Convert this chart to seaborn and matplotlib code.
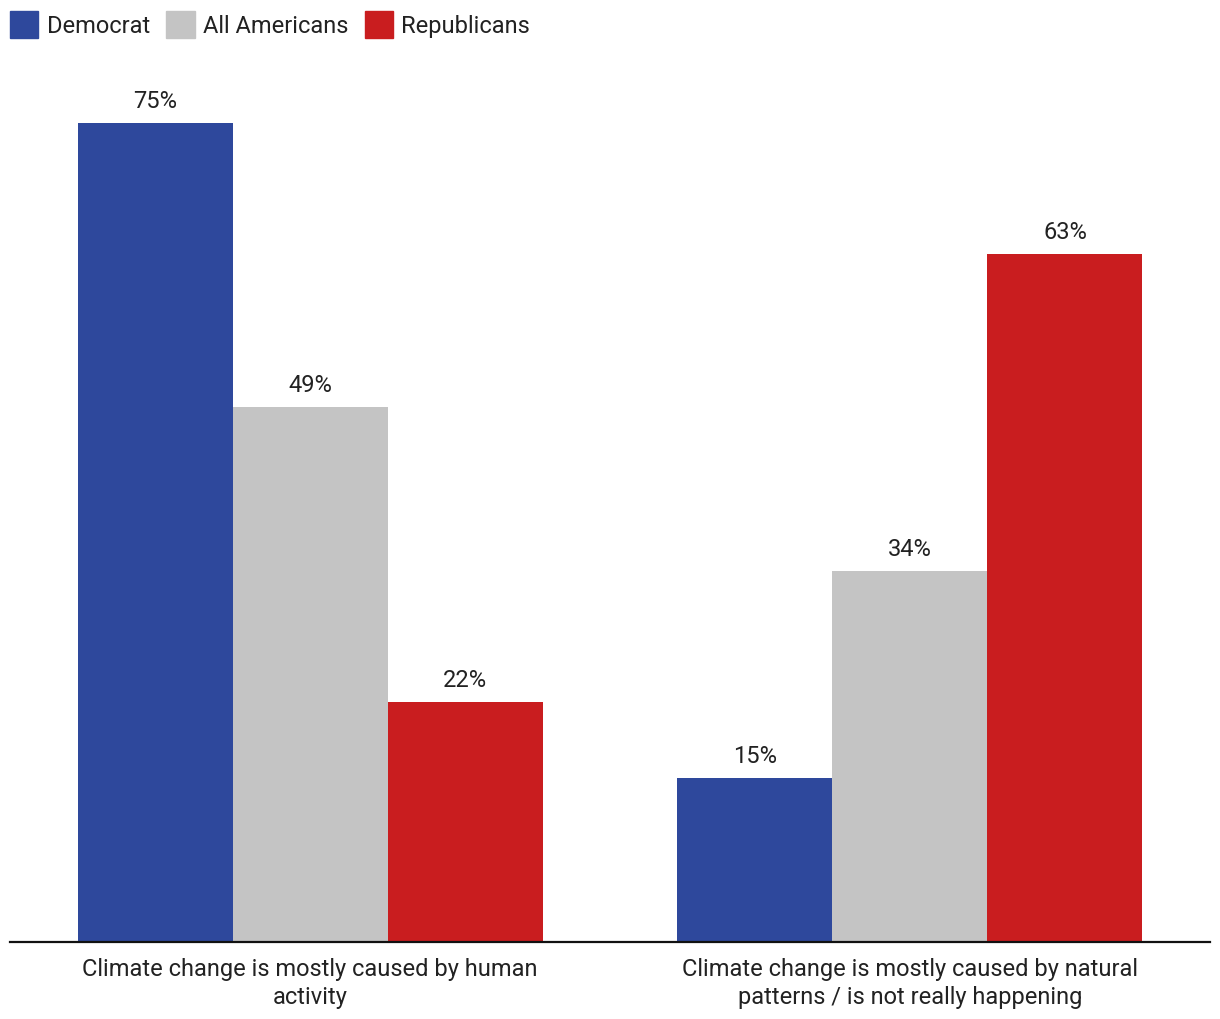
import pandas as pd
import numpy as np
import matplotlib.pyplot as plt
import seaborn as sns

# datos
enunciados = ["Climate change is mostly caused by human\nactivity",
              "Climate change is mostly caused by natural\npatterns / is not really happening"]
grupos = ["Democrat", "All Americans", "Republicans"]
democrat = [75, 15]
all_americans = [49, 34]
republicans = [22, 63]
colores = ["#2E489C", "#C4C4C4", "#C91D1F"]

datos = pd.DataFrame({
    "enunciado": enunciados * 3,
    "grupo": [g for g in grupos for _ in enunciados],
    "pct": democrat + all_americans + republicans,
})

sns.set_style("white")
plt.rcParams["font.family"] = ["Roboto", "DejaVu Sans"]

fig = plt.figure(figsize=(12.2, 10.2), dpi=100)
ax = fig.add_axes([0.0082, 0.0755, 0.9836, 0.8565])

sns.barplot(data=datos, x="enunciado", y="pct", hue="grupo", palette=colores,
            width=0.775, saturation=1, linewidth=0, ax=ax, legend=False)

for c in ax.containers:
    ax.bar_label(c, fmt="%d%%", padding=8, fontsize=17, color="#222222")

ax.set_xlim(-0.5, 1.5)
ax.set_ylim(0, 80)
ax.set_xlabel("")
ax.set_ylabel("")
ax.set_yticks([])
ax.tick_params(axis="x", length=0, pad=11, labelsize=17, labelcolor="#222222")
for t in ax.get_xticklabels():
    t.set_linespacing(1.25)
for s in ["top", "right", "left"]:
    ax.spines[s].set_visible(False)
ax.spines["bottom"].set_color("#111111")
ax.spines["bottom"].set_linewidth(1.6)

# leyenda arriba a la izquierda
manijas = [plt.Rectangle((0, 0), 1, 1, color=c) for c in colores]
fig.legend(manijas, grupos, loc="upper left", bbox_to_anchor=(10 / 1220, 1 - 12 / 1020), ncol=3,
           frameon=False, fontsize=17, handlelength=1.2, handleheight=1.4,
           handletextpad=0.35, columnspacing=0.7, labelcolor="#222222",
           borderpad=0, borderaxespad=0)

plt.savefig("out.png", dpi=100)
plt.close()
